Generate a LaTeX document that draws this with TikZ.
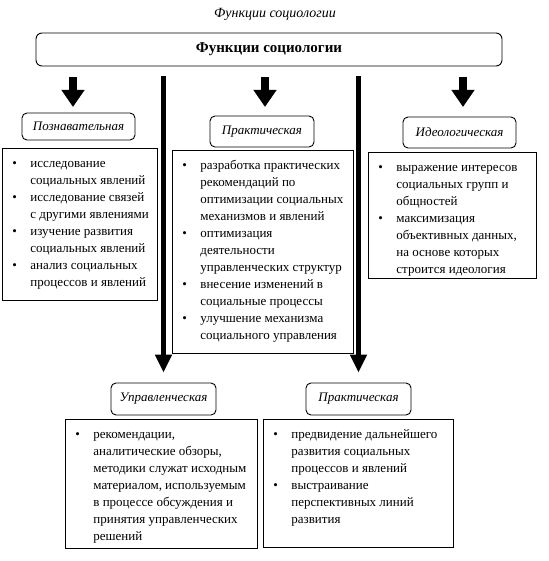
\documentclass[tikz,border=0pt]{standalone}
\usepackage{fontspec}
\setmainfont{Liberation Serif}
\usetikzlibrary{arrows.meta}
\newcommand\bitem[1]{\par\noindent\hangindent=28pt\hangafter=1\hspace*{10pt}\makebox[18pt][l]{\textbullet}\strut{\let\\\newline #1}\par}
\newcommand\blist[3]{\parbox[t][#2][t]{#1}{\fontsize{13}{17}\selectfont\raggedright\vspace*{7pt}#3}}
\tikzset{
  listbox/.style={draw, inner sep=0pt, line width=0.8pt, anchor=north west},
  hdr/.style={draw, rounded corners=5pt, line width=0.9pt, inner sep=0pt,
    font=\fontsize{13}{15}\selectfont\itshape},
  smallarr/.style={line width=8pt, -{Triangle[width=22pt,length=17pt]}},
  longarr/.style={line width=5pt, -{Triangle[width=16pt,length=18pt]}, shorten <=10pt, shorten >=10pt},
}
\begin{document}
\begin{tikzpicture}[x=1pt,y=-1pt]
\useasboundingbox (0,0) rectangle (548,561);
\fill[white] (0,0) rectangle (548,561);
\node (title) at (275,14) {\fontsize{14}{16}\selectfont\itshape Функции социологии};
\node[draw, rounded corners=6pt, line width=0.9pt, minimum width=466pt, minimum height=33pt,
  font=\fontsize{15}{17}\selectfont\bfseries] (main) at (269,49.5) {Функции социологии};
% headers
\node[hdr, minimum width=113pt, minimum height=27pt] (h1) at (78.5,126.5) {Познавательная};
\node[hdr, minimum width=104pt, minimum height=31pt] (h2) at (262,131.5) {Практическая};
\node[hdr, minimum width=113pt, minimum height=31pt] (h3) at (459.5,132.5) {Идеологическая};
\node[hdr, minimum width=105pt, minimum height=32pt] (b1) at (163.5,399) {Управленческая};
\node[hdr, minimum width=105pt, minimum height=32pt] (b2) at (358.5,399) {Практическая};
% bullet boxes
\node[listbox] (l1) at (2,148) {\blist{155pt}{152pt}{%
\bitem{исследование\\социальных явлений}
\bitem{исследование связей\\с другими явлениями}
\bitem{изучение развития\\социальных явлений}
\bitem{анализ социальных\\процессов и явлений}}};
\node[listbox] (l2) at (172,150) {\blist{181pt}{203pt}{%
\bitem{разработка практических\\рекомендаций по\\оптимизации социальных\\механизмов и явлений}
\bitem{оптимизация\\деятельности\\управленческих структур}
\bitem{внесение изменений в\\социальные процессы}
\bitem{улучшение механизма\\социального управления}}};
\node[listbox] (l3) at (368,152) {\blist{168pt}{126pt}{%
\bitem{выражение интересов\\социальных групп и\\общностей}
\bitem{максимизация\\объективных данных,\\на основе которых\\строится идеология}}};
\node[listbox] (m1) at (65,419) {\blist{192pt}{129pt}{%
\bitem{рекомендации,\\аналитические обзоры,\\методики служат исходным\\материалом, используемым\\в процессе обсуждения и\\принятия управленческих\\решений}}};
\node[listbox] (m2) at (263,419) {\blist{190pt}{128pt}{%
\bitem{предвидение дальнейшего\\развития социальных\\процессов и явлений}
\bitem{выстраивание\\перспективных линий\\развития}}};
% arrows
\coordinate (a1s) at (73,77);  \coordinate (a1e) at (73,107);
\coordinate (a2s) at (265,77); \coordinate (a2e) at (265,107);
\coordinate (a3s) at (463,77); \coordinate (a3e) at (463,107);
\draw[smallarr] (a1s) -- (a1e);
\draw[smallarr] (a2s) -- (a2e);
\draw[smallarr] (a3s) -- (a3e);
\draw[longarr] (main.south -| b1.north) -- (b1.north);
\draw[longarr] (main.south -| b2.north) -- (b2.north);
\end{tikzpicture}
\end{document}
